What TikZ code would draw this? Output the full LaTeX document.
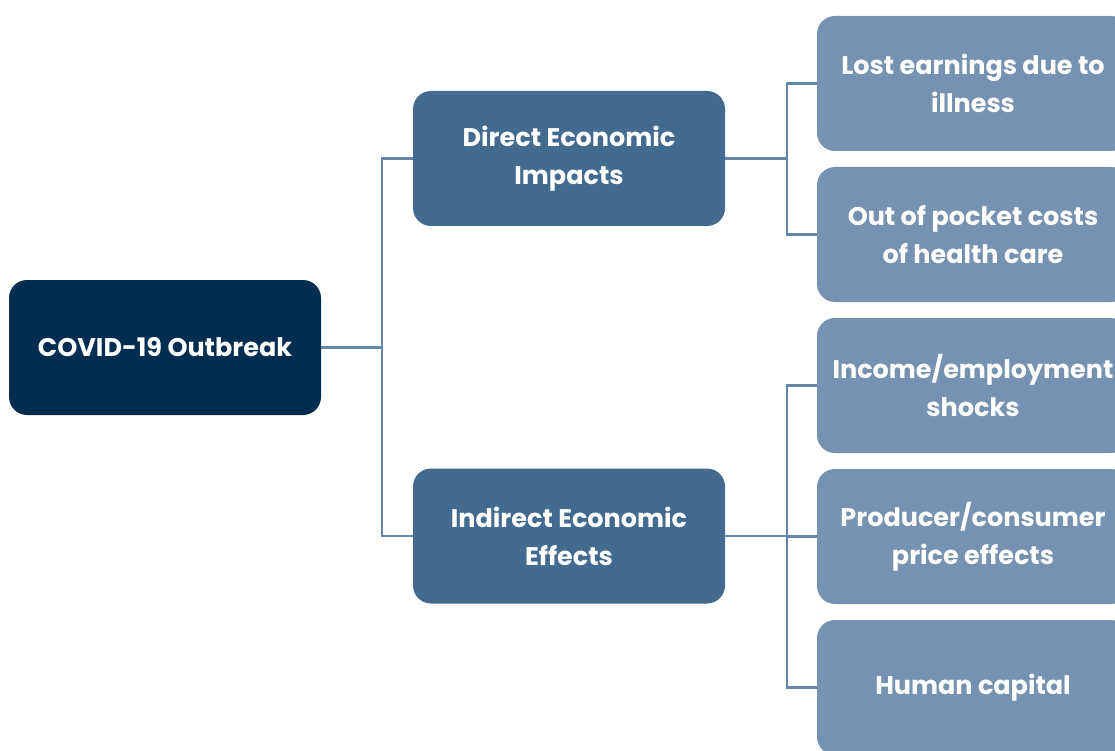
\documentclass[tikz,border=0pt]{standalone}
\usepackage{fontspec}
\setmainfont{Poppins}
\usepackage{xcolor}
\usetikzlibrary{positioning}
\definecolor{rootblue}{HTML}{002D50}
\definecolor{midblue}{HTML}{426B8F}
\definecolor{leafblue}{HTML}{7592B0}
\definecolor{linkblue}{HTML}{6286AA}
\begin{document}
\begin{tikzpicture}[
    x=1pt, y=-1pt,
    box/.style={rectangle, rounded corners=18pt, minimum width=312pt, minimum height=135pt, outer sep=0pt, align=center, text=white, font=\fontsize{25.5}{38}\selectfont\bfseries},
    rootbox/.style={box, fill=rootblue},
    midbox/.style={box, fill=midblue},
    leafbox/.style={box, fill=leafblue},
    link/.style={draw=linkblue, line width=2.2pt}
]
\useasboundingbox[fill=white] (0,0) rectangle (1115,751);
\node[rootbox] (root) at (165,347.5) {COVID-19 Outbreak};
\node[midbox, right=92pt of root, yshift=189pt] (direct) {Direct Economic\\Impacts};
\node[midbox, right=92pt of root, yshift=-188.5pt] (indirect) {Indirect Economic\\Effects};
\node[leafbox, right=92pt of direct, yshift=75pt] (lost) {Lost earnings due to\\illness};
\node[leafbox, below=16pt of lost] (pocket) {Out of pocket costs\\of health care};
\node[leafbox, below=16pt of pocket] (income) {Income/employment\\shocks};
\node[leafbox, below=16pt of income] (price) {Producer/consumer\\price effects};
\node[leafbox, below=16pt of price] (human) {Human capital};
\draw[link] (root.east) -- ++(61,0) |- (direct.west);
\draw[link] (root.east) -- ++(61,0) |- (indirect.west);
\draw[link] (direct.east) -- ++(62,0) |- (lost.west);
\draw[link] (direct.east) -- ++(62,0) |- (pocket.west);
\draw[link] (indirect.east) -- ++(62,0) |- (income.west);
\draw[link] (indirect.east) -- ++(62,0) |- (price.west);
\draw[link] (indirect.east) -- ++(62,0) |- (human.west);
\end{tikzpicture}
\end{document}
